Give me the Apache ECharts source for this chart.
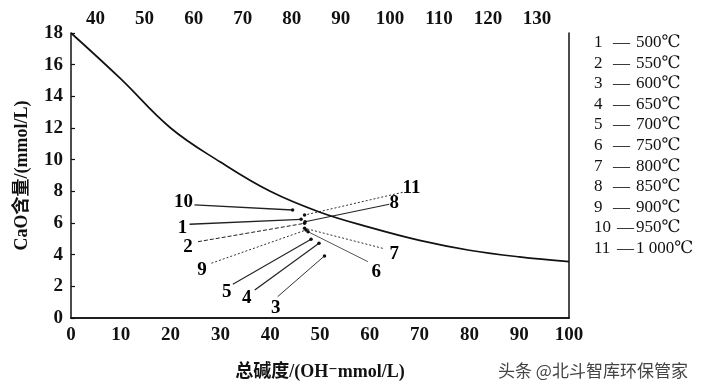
<!DOCTYPE html>
<html>
<head>
<meta charset="utf-8">
<script src="https://cdn.jsdelivr.net/npm/echarts@6/dist/echarts.min.js"></script>
<style>
html,body{margin:0;padding:0;background:#fff;}
#c{width:710px;height:390px;}
</style>
</head>
<body>
<div id="c"></div>
<script>
// ---- data ----
const curveX = [0, 10, 20, 30, 40, 50, 60, 70, 80, 90, 100];
const curveY = [18, 15.1, 12.0, 9.85, 8.0, 6.68, 5.72, 4.9, 4.28, 3.86, 3.56];

const pointIds = ['1', '2', '3', '4', '5', '6', '7', '8', '9', '10', '11'];
const pointX = [46.2, 46.9, 50.9, 49.8, 48.2, 47.6, 46.9, 47.0, 47.2, 44.5, 46.9];
const pointY = [6.23, 5.98, 3.92, 4.72, 4.97, 5.45, 5.67, 6.08, 5.56, 6.82, 6.5];
// leader line far ends (data coords) and tag anchor (data coords)
const leaderX = [23.8, 25.5, 41.5, 36.9, 32.5, 59.6, 62.6, 63.9, 28.2, 24.8, 66.6];
const leaderY = [5.92, 4.82, 1.35, 1.77, 2.13, 3.56, 4.40, 7.18, 3.46, 7.14, 7.94];
const tagX = [22.4, 23.5, 41.1, 35.3, 31.3, 61.3, 64.9, 64.9, 26.3, 22.6, 68.4];
const tagY = [5.69, 4.49, 0.63, 1.26, 1.64, 2.91, 4.04, 7.26, 3.03, 7.33, 8.21];

const temps = ['500℃', '550℃', '600℃', '650℃', '700℃', '750℃', '800℃', '850℃', '900℃', '950℃', '1 000℃'];

const bottomTicks = [0, 10, 20, 30, 40, 50, 60, 70, 80, 90, 100];
const topTicks = [40, 50, 60, 70, 80, 90, 100, 110, 120, 130];
const yTicks = [0, 2, 4, 6, 8, 10, 12, 14, 16, 18];

const xTitle = '总碱度/(OH⁻mmol/L)';
const yTitle = 'CaO含量/(mmol/L)';
const watermark = '头条 @北斗智库环保管家';

// ---- styles (separate from data) ----
const leaderStyles = [
  {type: 'solid', width: 1.3, color: '#222'},
  {type: [4, 2], width: 1, color: '#222'},
  {type: 'solid', width: 1, color: '#333'},
  {type: 'solid', width: 1.2, color: '#222'},
  {type: 'solid', width: 1.1, color: '#222'},
  {type: 'solid', width: 1, color: '#555'},
  {type: [2, 2], width: 1, color: '#333'},
  {type: 'solid', width: 1.1, color: '#222'},
  {type: [2, 2], width: 1, color: '#333'},
  {type: 'solid', width: 1.3, color: '#222'},
  {type: [2, 2], width: 1, color: '#333'}
];

const SERIF = "'Liberation Serif','DejaVu Serif','Noto Sans CJK SC',serif";
const LABEL = {fontFamily: SERIF, fontSize: 19, fontWeight: 'bold', color: '#111'};

const chart = echarts.init(document.getElementById('c'), null, {renderer: 'canvas'});

const series = [];
series.push({
  type: 'line', xAxisIndex: 0, yAxisIndex: 0,
  data: curveX.map((x, i) => [x, curveY[i]]),
  smooth: 0.4, symbol: 'none',
  lineStyle: {color: '#111', width: 1.7},
  silent: true, z: 3
});
for (let i = 0; i < pointIds.length; i++) {
  series.push({
    type: 'line', xAxisIndex: 0, yAxisIndex: 0,
    data: [[leaderX[i], leaderY[i]], [pointX[i], pointY[i]]],
    symbol: 'none', lineStyle: leaderStyles[i], silent: true, z: 2
  });
}
series.push({
  type: 'scatter', xAxisIndex: 0, yAxisIndex: 0,
  data: pointX.map((x, i) => [x, pointY[i]]),
  symbol: 'circle', symbolSize: 3.5,
  itemStyle: {color: '#111', opacity: 1}, silent: true, z: 4
});
series.push({
  type: 'scatter', xAxisIndex: 0, yAxisIndex: 0,
  data: tagX.map((x, i) => ({value: [x, tagY[i]], name: pointIds[i]})),
  symbol: 'circle', symbolSize: 0.1,
  itemStyle: {color: '#fff', opacity: 1},
  label: {show: true, position: [0, 0], align: 'center', verticalAlign: 'middle',
    formatter: p => p.name, textBorderWidth: 0, opacity: 1,
    fontFamily: SERIF, fontSize: 19, fontWeight: 'bold', color: '#000'},
  silent: true, z: 5
});

// legend as text
const graphics = [];
const rowTop = 43, rowStep = 20.6;
for (let i = 0; i < temps.length; i++) {
  const y = rowTop + rowStep * i;
  graphics.push({type: 'text', left: 594, top: y - 9,
    style: {text: pointIds[i], font: "17px " + SERIF, fill: '#111'}});
  graphics.push({type: 'text', left: i >= 9 ? 617 : 613, top: y - 9,
    style: {text: '—', font: "17px " + SERIF, fill: '#111'}});
  graphics.push({type: 'text', left: 636, top: y - 9,
    style: {text: temps[i], font: "17px " + SERIF, fill: '#111'}});
}
graphics.push({type: 'text', left: 498, top: 362,
  style: {text: watermark, font: "17px 'Noto Sans CJK SC',sans-serif", fill: '#444'}});

const axisLineStyle = {show: true, lineStyle: {color: '#111', width: 1.5}};

chart.setOption({
  animation: false,
  backgroundColor: '#fff',
  grid: {left: 71, right: 141, top: 33, bottom: 72, containLabel: false},
  xAxis: [
    {
      type: 'value', position: 'bottom', min: bottomTicks[0], max: bottomTicks[bottomTicks.length - 1], interval: 10,
      axisLine: axisLineStyle, axisTick: {show: false}, splitLine: {show: false},
      axisLabel: Object.assign({margin: 8, formatter: v => bottomTicks.includes(v) ? String(v) : ''}, LABEL),
      name: xTitle, nameLocation: 'middle', nameGap: 45,
      nameTextStyle: {fontFamily: SERIF, fontSize: 18, fontWeight: 'bold', color: '#111'}
    },
    {
      type: 'value', position: 'top', min: 35, max: 136.5, interval: 5,
      axisLine: axisLineStyle, axisTick: {show: false}, splitLine: {show: false},
      axisLabel: Object.assign({margin: 4, showMinLabel: true, showMaxLabel: true,
        formatter: v => topTicks.includes(v) ? String(v) : ''}, LABEL)
    }
  ],
  yAxis: [
    {
      type: 'value', position: 'left', min: 0, max: 18, interval: 2,
      axisLine: axisLineStyle,
      axisTick: {show: true, inside: true, length: 4, lineStyle: {color: '#111', width: 1.2}},
      splitLine: {show: false},
      axisLabel: Object.assign({margin: 8, formatter: v => yTicks.includes(v) ? String(v) : ''}, LABEL),
      name: yTitle, nameLocation: 'middle', nameGap: 40, nameRotate: 90,
      nameTextStyle: {fontFamily: SERIF, fontSize: 18, fontWeight: 'bold', color: '#111'}
    },
    {
      type: 'value', position: 'right', min: 0, max: 18,
      axisLine: axisLineStyle, axisTick: {show: false}, axisLabel: {show: false}, splitLine: {show: false}
    }
  ],
  series: series,
  graphic: graphics
});
</script>
</body>
</html>
